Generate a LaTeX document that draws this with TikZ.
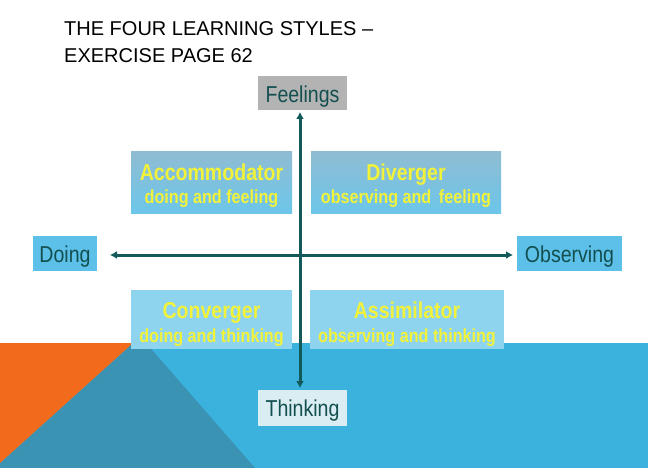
\documentclass[tikz,border=0pt]{standalone}
\usepackage{fontspec}
\setmainfont{Liberation Sans}
\newfontfamily\narrowfont[FakeStretch=0.85]{Liberation Sans}
\usetikzlibrary{arrows.meta}
\definecolor{band}{HTML}{3BB1DE}
\definecolor{darktri}{HTML}{3A93B3}
\definecolor{orng}{HTML}{F26B1D}
\definecolor{axis}{HTML}{125A5A}
\definecolor{labtxt}{HTML}{134F4F}
\definecolor{ylw}{HTML}{F2F23A}
\definecolor{topA}{HTML}{8FBCD3}
\definecolor{botA}{HTML}{6CC6EA}
\definecolor{lowq}{HTML}{8ED4EF}
\definecolor{sidebox}{HTML}{5CC0E8}
\definecolor{feelbox}{HTML}{B3B3B3}
\definecolor{thinkbox}{HTML}{D9EDF3}
\tikzset{
  axislabel/.style={anchor=base, inner sep=0pt, font=\narrowfont\fontsize{23}{25}\selectfont, text=labtxt},
  quadtop/.style={top color=topA, bottom color=botA, draw=none},
  quadlow/.style={fill=lowq, draw=none},
  quadhead/.style={anchor=base, text=ylw, inner sep=0pt, font=\narrowfont\bfseries\fontsize{23}{25}\selectfont},
  quadsub/.style={anchor=base, text=ylw, inner sep=0pt, font=\narrowfont\bfseries\fontsize{19}{21}\selectfont},
  axisline/.style={draw=axis, line width=3pt, -{Latex[length=7pt,width=8pt]}}
}
\begin{document}
\begin{tikzpicture}[x=1pt,y=-1pt]
\useasboundingbox (0,0) rectangle (648,468);
% background band
\fill[band] (0,343) rectangle (648,468);
\fill[darktri] (133,343) -- (146,343) -- (255,468) -- (0,468) -- (0,463) -- cycle;
\fill[orng] (0,343) -- (133,343) -- (0,463) -- cycle;
% title
\node[anchor=base west, inner sep=0pt, font=\fontsize{20}{27}\selectfont] (t1) at (64,36) {THE FOUR LEARNING STYLES –};
\node[anchor=base west, inner sep=0pt, font=\fontsize{20}{27}\selectfont] (t2) at (64,63) {EXERCISE PAGE 62};
% quadrant boxes
\fill[quadtop] (131,152) rectangle (292,213);
\fill[quadtop] (311,152) rectangle (501,213);
\fill[quadlow] (131,290) rectangle (292,349);
\fill[quadlow] (310,290) rectangle (504,349);
\node[quadhead] (acc) at (211.5,180) {Accommodator};
\node[quadsub] (accs) at (211.5,203) {doing and feeling};
\node[quadhead] (div) at (406,180) {Diverger};
\node[quadsub] (divs) at (406,203) {observing and\, feeling};
\node[quadhead] (con) at (211.5,318) {Converger};
\node[quadsub] (cons) at (211.5,342) {doing and thinking};
\node[quadhead] (ass) at (407,318) {Assimilator};
\node[quadsub] (asss) at (407,342) {observing and thinking};
% axis label boxes
\fill[feelbox] (258,76) rectangle (347,110);
\fill[thinkbox] (258,390) rectangle (347,426);
\fill[sidebox] (33,236) rectangle (97,271);
\fill[sidebox] (517,236) rectangle (622,271);
\node[axislabel] (feel) at (302.5,103) {Feelings};
\node[axislabel] (think) at (302.5,416) {Thinking};
\node[axislabel] (doing) at (65,262) {Doing};
\node[axislabel] (obs) at (569.5,262) {Observing};
% axes
\coordinate (vt) at (300,112);
\coordinate (vb) at (300,388);
\coordinate (hl) at (110,255);
\coordinate (hr) at (513,255);
\coordinate (c) at (300,255);
\draw[axisline] (c) -- (vt);
\draw[axisline] (c) -- (vb);
\draw[axisline] (c) -- (hl);
\draw[axisline] (c) -- (hr);
\end{tikzpicture}
\end{document}
